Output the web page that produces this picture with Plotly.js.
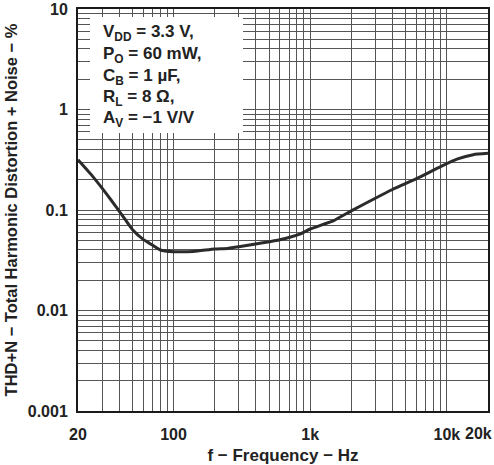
<!DOCTYPE html>
<html>
<head>
<meta charset="utf-8">
<script src="https://cdn.plot.ly/plotly-3.0.1.min.js"></script>
<style>html,body{margin:0;padding:0;background:#fff;}#chart{width:494px;height:465px;}</style>
</head>
<body>
<div id="chart"></div>
<script>
// Frequency (Hz) and THD+N (%)
const freqHz = [20, 25, 30, 35, 42, 50, 60, 67, 80, 100, 140, 200, 250, 300, 430, 600, 840, 1000, 1500, 2000, 2900, 4000, 6000, 9000, 12000, 15600, 20000];
const thdPct = [0.317, 0.225, 0.165, 0.125, 0.089, 0.064, 0.051, 0.0465, 0.040, 0.0385, 0.0387, 0.041, 0.0415, 0.043, 0.0467, 0.0506, 0.0575, 0.0647, 0.079, 0.098, 0.128, 0.16, 0.205, 0.27, 0.322, 0.355, 0.366];

// Grid / tick positions and labels
const xTickVals = [20,30,40,50,60,70,80,90,100,200,300,400,500,600,700,800,900,1000,2000,3000,4000,5000,6000,7000,8000,9000,10000,20000];
const xTickText = ['20','','','','','','','','100','','','','','','','','','1k','','','','','','','','','10k','20k'];
const yTickVals = [0.001,0.002,0.003,0.004,0.005,0.006,0.007,0.008,0.009,0.01,0.02,0.03,0.04,0.05,0.06,0.07,0.08,0.09,0.1,0.2,0.3,0.4,0.5,0.6,0.7,0.8,0.9,1,2,3,4,5,6,7,8,9,10];
const yTickText = ['0.001','','','','','','','','','0.01','','','','','','','','','0.1','','','','','','','','','1','','','','','','','','','10'];

// Condition text lines
const condLines = ['V<sub>DD</sub> = 3.3 V,', 'P<sub>O</sub> = 60 mW,', 'C<sub>B</sub> = 1 µF,', 'R<sub>L</sub> = 8 Ω,', 'A<sub>V</sub> = −1 V/V'];

const FONT = 'Liberation Sans, Arial, Helvetica, sans-serif';
const plotL = 78, plotR = 488, plotT = 9, plotB = 411;
const pw = plotR - plotL, ph = plotB - plotT;
const lineY = [33, 55, 77, 98, 119];
const tickFont = {family: FONT, size: 16, color: '#222', weight: 'bold'};

const annotations = condLines.map((t, i) => ({
  text: t, xref: 'paper', yref: 'paper',
  x: (101 - plotL) / pw, y: (plotB - lineY[i]) / ph,
  xanchor: 'left', yanchor: 'middle', showarrow: false,
  font: {family: FONT, size: 17, color: '#222', weight: 'bold'}
}));

// last x tick label ("20k") sits at the right edge: drawn right-aligned so it stays inside the page
const lastIdx = xTickVals.length - 1;
annotations.push({
  text: xTickText[lastIdx], xref: 'x', yref: 'paper',
  x: Math.log10(xTickVals[lastIdx]), y: 0,
  xanchor: 'right', yanchor: 'middle', xshift: 6, yshift: -22,
  showarrow: false, font: tickFont
});
const xTickTextDrawn = xTickText.map((t, i) => i === lastIdx ? '' : t);

const trace = {
  x: freqHz, y: thdPct, type: 'scatter', mode: 'lines',
  line: {color: '#2b2b2b', width: 3, shape: 'spline', smoothing: 0.5},
  hoverinfo: 'skip'
};

const axisCommon = {
  showgrid: true, gridcolor: '#555555', gridwidth: 1,
  showline: true, linecolor: '#1a1a1a', linewidth: 2, mirror: true,
  zeroline: false, ticks: '', tickmode: 'array',
  ticklabeloverflow: 'allow',
  tickfont: tickFont
};

const layout = {
  width: 494, height: 465,
  margin: {l: plotL, r: 494 - plotR, t: plotT, b: 465 - plotB},
  paper_bgcolor: '#fff', plot_bgcolor: '#fff',
  showlegend: false,
  xaxis: Object.assign({}, axisCommon, {
    type: 'log', range: [Math.log10(20), Math.log10(20000)],
    tickvals: xTickVals, ticktext: xTickTextDrawn,
    ticklabelstandoff: 8,
    title: {text: 'f − Frequency − Hz', font: {family: FONT, size: 17, color: '#222', weight: 'bold'}, standoff: 10}
  }),
  yaxis: Object.assign({}, axisCommon, {
    type: 'log', range: [-3, 1],
    tickvals: yTickVals, ticktext: yTickText,
    ticklabelstandoff: 5,
    title: {text: 'THD+N − Total Harmonic Distortion + Noise − %', font: {family: FONT, size: 16.5, color: '#222', weight: 'bold'}, standoff: 6}
  }),
  shapes: [{
    type: 'rect', xref: 'paper', yref: 'paper', layer: 'above',
    x0: (90 - plotL) / pw, x1: (243 - plotL) / pw,
    y0: (plotB - 133) / ph, y1: (plotB - 17) / ph,
    fillcolor: '#fff', line: {width: 0}
  }],
  annotations: annotations
};

Plotly.newPlot('chart', [trace], layout, {staticPlot: true, displayModeBar: false});
</script>
</body>
</html>
